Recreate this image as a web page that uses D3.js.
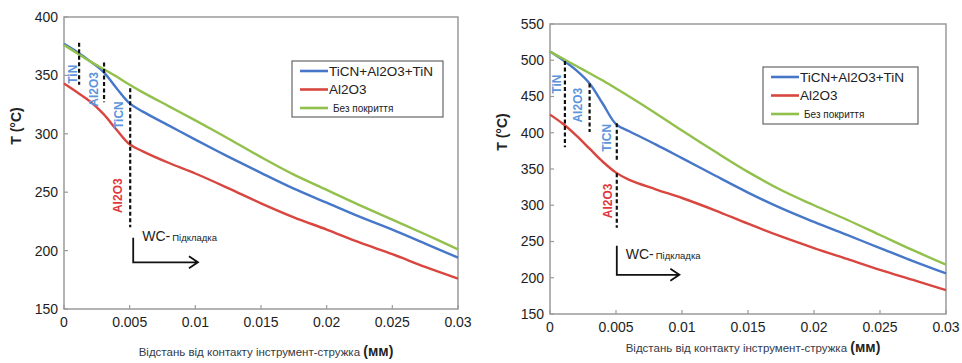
<!DOCTYPE html>
<html>
<head>
<meta charset="utf-8">
<script src="https://cdn.jsdelivr.net/npm/d3@7"></script>
<style>
  body { margin: 0; background: #fff; }
  svg { display: block; font-family: "Liberation Sans", Arial, sans-serif; }
  .frame { fill: none; stroke: #9a9a9a; stroke-width: 1.5px; }
  .tick-lbl { font-size: 14px; fill: #1e1e1e; }
  .series { fill: none; stroke-width: 2.4px; }
  .dash { stroke: #111; stroke-width: 2.2px; stroke-dasharray: 4 2.5; }
</style>
</head>
<body>
<script>
// distances, mm
const distance = [0, 0.001, 0.002, 0.003, 0.004, 0.005, 0.006, 0.008, 0.01, 0.0125, 0.015, 0.0175, 0.02, 0.0225, 0.025, 0.0275, 0.03];

// left chart (°C)
const leftCoated  = [377, 370, 362, 353, 339, 326, 319, 307, 295, 280.5, 266.5, 253, 241, 229, 218, 206, 194];
const leftAl2O3   = [343, 335.5, 327.5, 317, 303.5, 291, 285, 275, 266, 253.5, 240.5, 228.5, 218, 207, 197, 186, 176];
const leftBare    = [376, 369, 362, 355.5, 349, 342, 335.5, 323.5, 311.5, 296, 280, 265, 252, 239, 226.5, 214, 201];

// right chart (°C)
const rightCoated = [512, 500, 486, 468, 440, 412, 402, 384, 365, 341, 317.5, 296, 277, 259, 241, 223, 206];
const rightAl2O3  = [425, 412, 396, 378, 360, 345, 335, 322, 310, 293, 274.5, 257, 241, 226, 211, 197, 183];
const rightBare   = [512, 502, 492, 482, 472, 461, 450, 427, 403, 374, 346, 321, 300, 280, 259, 238, 218];

const seriesNames = ["TiCN+Al2O3+TiN", "Al2O3", "Без покриття"];
const seriesColors = ["#4677c8", "#d8463f", "#92c04c"];

const xTicks = [0, 0.005, 0.01, 0.015, 0.02, 0.025, 0.03];
const leftYTicks = [150, 200, 250, 300, 350, 400];
const rightYTicks = [150, 200, 250, 300, 350, 400, 450, 500, 550];

// layer boundaries: [x, yTop, yBottom]
const leftDashes  = [[0.00115, 378, 342], [0.00305, 361, 327], [0.00504, 339, 220]];
const rightDashes = [[0.00113, 499, 380], [0.0030, 468, 401], [0.00506, 413, 362], [0.00506, 344, 269]];

// layer labels: [text, x, T, colour]
const leftLayerLabels  = [["TiN", 0.0007, 351, "#5d95dc"], ["Al2O3", 0.0023, 338, "#5d95dc"], ["TiCN", 0.0042, 316, "#5d95dc"], ["Al2O3", 0.0041, 247, "#e0383c"]];
const rightLayerLabels = [["TiN", 0.00055, 467, "#5d95dc"], ["Al2O3", 0.0021, 438, "#5d95dc"], ["TiCN", 0.0043, 393, "#5d95dc"], ["Al2O3", 0.0044, 306, "#e0383c"]];

// substrate arrow: [x, yTop, yCorner, xEnd, labelT]
const leftArrow  = [0.00527, 211, 190, 0.0102, 208.5];
const rightArrow = [0.00506, 244, 204, 0.0098, 226];

const svg = d3.select("body").append("svg")
    .attr("width", 962)
    .attr("height", 363);

function drawPanel(cfg) {
    const g = svg.append("g");
    const x = d3.scaleLinear().domain([0, 0.03]).range([cfg.left, cfg.right]);
    const y = d3.scaleLinear().domain([150, cfg.yMax]).range([cfg.bottom, cfg.top]);

    // frame
    g.append("rect").attr("class", "frame")
        .attr("x", cfg.left).attr("y", cfg.top)
        .attr("width", cfg.right - cfg.left).attr("height", cfg.bottom - cfg.top);

    // inward ticks
    g.selectAll(".xt").data(xTicks).join("line")
        .attr("x1", d => x(d)).attr("x2", d => x(d))
        .attr("y1", cfg.bottom).attr("y2", cfg.bottom - 4)
        .attr("stroke", "#9a9a9a").attr("stroke-width", 1.2);
    g.selectAll(".yt").data(cfg.yTicks).join("line")
        .attr("y1", d => y(d)).attr("y2", d => y(d))
        .attr("x1", cfg.left).attr("x2", cfg.left + 4)
        .attr("stroke", "#9a9a9a").attr("stroke-width", 1.2);

    g.selectAll(".xl").data(xTicks).join("text")
        .attr("class", "tick-lbl")
        .attr("x", d => x(d)).attr("y", cfg.bottom + 18)
        .attr("text-anchor", "middle")
        .text(d => d === 0 ? "0" : String(d));
    g.selectAll(".yl").data(cfg.yTicks).join("text")
        .attr("class", "tick-lbl")
        .attr("x", cfg.left - 6).attr("y", d => y(d)).attr("dy", "0.35em")
        .attr("text-anchor", "end")
        .text(d => d);

    // axis titles
    g.append("text")
        .attr("transform", `translate(${cfg.left - 43},${(cfg.top + cfg.bottom) / 2 - 37}) rotate(-90)`)
        .attr("text-anchor", "middle")
        .style("font-size", "14px").style("font-weight", "bold").style("fill", "#222")
        .text("T (°C)");
    const xt = g.append("text")
        .attr("x", (cfg.left + cfg.right) / 2 + 5).attr("y", cfg.titleY)
        .attr("text-anchor", "middle")
        .style("fill", "#333a48");
    xt.append("tspan").style("font-size", "11.5px").text("Відстань від контакту інструмент-стружка  ");
    xt.append("tspan").style("font-size", "14px").style("font-weight", "bold").style("fill", "#222").text("(мм)");

    // series
    const line = d3.line()
        .x((d, i) => x(distance[i]))
        .y(d => y(d))
        .curve(d3.curveCatmullRom.alpha(0.5));
    cfg.series.forEach((vals, k) => {
        g.append("path").attr("class", "series")
            .attr("stroke", seriesColors[k])
            .attr("d", line(vals));
    });

    // layer boundaries
    g.selectAll(".dash").data(cfg.dashes).join("line")
        .attr("class", "dash")
        .attr("x1", d => x(d[0])).attr("x2", d => x(d[0]))
        .attr("y1", d => y(d[1])).attr("y2", d => y(d[2]));

    g.selectAll(".layer").data(cfg.labels).join("text")
        .attr("transform", d => `translate(${x(d[1])},${y(d[2])}) rotate(-90)`)
        .attr("text-anchor", "middle").attr("dy", "0.35em")
        .style("font-size", "12px").style("font-weight", "bold")
        .style("fill", d => d[3])
        .text(d => d[0]);

    // WC substrate arrow
    const a = cfg.arrow;
    const ax = x(a[0]), ay0 = y(a[1]), ay1 = y(a[2]), ax1 = x(a[3]);
    g.append("path")
        .attr("d", `M${ax},${ay0}V${ay1}H${ax1}M${ax1 - 9},${ay1 - 6}L${ax1},${ay1}L${ax1 - 9},${ay1 + 6}`)
        .attr("fill", "none").attr("stroke", "#111").attr("stroke-width", 1.8);
    const wt = g.append("text")
        .attr("x", ax + 9).attr("y", y(a[4]))
        .style("fill", "#222");
    wt.append("tspan").style("font-size", "14px").text("WC-");
    wt.append("tspan").style("font-size", "9.5px").attr("dx", 2).text("Підкладка");

    // legend
    const L = cfg.legend;
    g.append("rect")
        .attr("x", L.x).attr("y", L.y).attr("width", L.w).attr("height", L.h)
        .attr("fill", "#fff").attr("stroke", "#666").attr("stroke-width", 1.2);
    seriesNames.forEach((name, k) => {
        const yy = L.y + 10 + k * 18.5;
        g.append("line")
            .attr("x1", L.x + 8).attr("x2", L.x + 36)
            .attr("y1", yy).attr("y2", yy)
            .attr("stroke", seriesColors[k]).attr("stroke-width", 2.6);
        g.append("text")
            .attr("x", L.x + (k === 2 ? 41 : 37)).attr("y", yy).attr("dy", "0.35em")
            .style("font-size", k === 2 ? "10px" : "13.5px")
            .style("fill", "#222")
            .text(name);
    });
}

drawPanel({
    left: 64, right: 458, top: 17, bottom: 309, yMax: 400, yTicks: leftYTicks,
    series: [leftCoated, leftAl2O3, leftBare], dashes: leftDashes, labels: leftLayerLabels,
    arrow: leftArrow, titleY: 356,
    legend: { x: 292, y: 61, w: 151, h: 56 }
});

drawPanel({
    left: 550, right: 946, top: 24, bottom: 314, yMax: 550, yTicks: rightYTicks,
    series: [rightCoated, rightAl2O3, rightBare], dashes: rightDashes, labels: rightLayerLabels,
    arrow: rightArrow, titleY: 352,
    legend: { x: 763, y: 67, w: 155, h: 57 }
});
</script>
</body>
</html>
